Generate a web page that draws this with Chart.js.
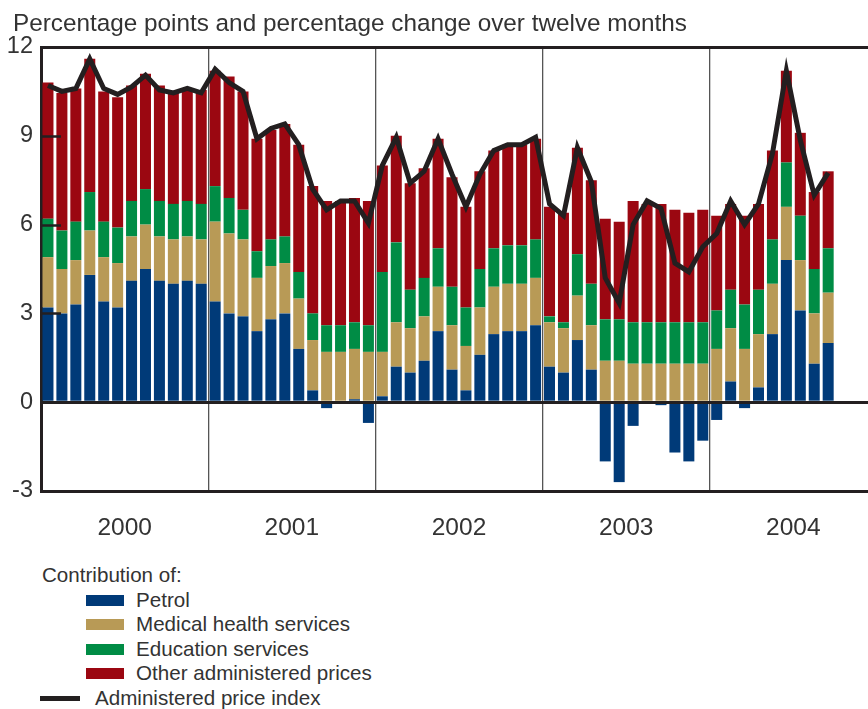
<!DOCTYPE html>
<html>
<head>
<meta charset="utf-8">
<script src="https://cdn.jsdelivr.net/npm/chart.js@4.4.1/dist/chart.umd.min.js"></script>
<style>
    html, body { margin: 0; padding: 0; background: #fff; overflow: hidden; }
    body { width: 868px; height: 709px; position: relative; font-family: "Liberation Sans", Arial, sans-serif; color: #333; }
    #title { position: absolute; left: 13px; top: 9px; font-size: 24.3px; line-height: 28px; white-space: nowrap; z-index: 2; }
    #chart { position: absolute; left: 0; top: 0; }
    #legend { position: absolute; left: 0; top: 563px; font-size: 20.6px; }
    .row { position: relative; height: 24.5px; line-height: 24.5px; white-space: nowrap; }
    .sw { position: absolute; left: 86px; top: 7px; width: 38px; height: 11px; }
    .ln { position: absolute; left: 40px; top: 10px; width: 40px; height: 5px; background: #231f20; }
</style>
</head>
<body>
<div id="title">Percentage points and percentage change over twelve months</div>
<canvas id="chart" width="893" height="560"></canvas>
<div id="legend"></div>
<script>
//---------
//Constants
//---------

//Years on the horizontal axis (Jan 2000 - Dec 2004, data up to Sep 2004)
const YEARS = ["2000", "2001", "2002", "2003", "2004"];

//Series names and colours
const SERIES_NAMES = ["Petrol", "Medical health services", "Education services", "Other administered prices"];
const SERIES_COLORS = ["#003a78", "#b89a56", "#008c45", "#9b0711"];
const INDEX_NAME = "Administered price index";
const INDEX_COLOR = "#231f20";

//Contribution of petrol, percentage points
const PETROL = [
    3.2, 3.0, 3.3, 4.3, 3.4, 3.2, 4.1, 4.5, 4.1, 4.0, 4.1, 4.0,
    3.4, 3.0, 2.9, 2.4, 2.8, 3.0, 1.8, 0.4, -0.2, 0.0, 0.1, -0.7,
    0.2, 1.2, 1.0, 1.4, 2.4, 1.1, 0.4, 1.6, 2.3, 2.4, 2.4, 2.6,
    1.2, 1.0, 2.1, 1.1, -2.0, -2.7, -0.8, 0.0, -0.1, -1.7, -2.0, -1.3,
    -0.6, 0.7, -0.2, 0.5, 2.3, 4.8, 3.1, 1.3, 2.0
];

//Contribution of medical health services
const MEDICAL = [
    1.7, 1.5, 1.5, 1.5, 1.5, 1.5, 1.5, 1.5, 1.5, 1.5, 1.5, 1.5,
    2.7, 2.7, 2.6, 1.8, 1.8, 1.7, 1.7, 1.7, 1.7, 1.7, 1.7, 1.7,
    1.5, 1.5, 1.5, 1.5, 1.5, 1.5, 1.5, 1.6, 1.6, 1.6, 1.6, 1.6,
    1.5, 1.5, 1.5, 1.5, 1.4, 1.4, 1.3, 1.3, 1.3, 1.3, 1.3, 1.3,
    1.8, 1.8, 1.8, 1.8, 1.7, 1.8, 1.7, 1.7, 1.7
];

//Contribution of education services
const EDUCATION = [
    1.3, 1.3, 1.3, 1.3, 1.2, 1.2, 1.2, 1.2, 1.2, 1.2, 1.2, 1.2,
    1.2, 1.2, 1.0, 0.9, 0.9, 0.9, 0.9, 0.9, 0.9, 0.9, 0.9, 0.9,
    2.7, 2.7, 1.3, 1.3, 1.3, 1.3, 1.3, 1.3, 1.3, 1.3, 1.3, 1.3,
    0.2, 0.2, 1.4, 1.4, 1.4, 1.4, 1.4, 1.4, 1.4, 1.4, 1.4, 1.4,
    1.3, 1.3, 1.5, 1.5, 1.5, 1.5, 1.5, 1.5, 1.5
];

//Contribution of other administered prices
const OTHER = [
    4.6, 4.65, 4.5, 4.5, 4.4, 4.4, 3.9, 3.9, 3.9, 3.75, 3.75, 3.85,
    3.9, 4.1, 4.0, 3.8, 3.7, 3.8, 4.3, 4.3, 4.2, 4.2, 4.2, 4.2,
    3.6, 3.6, 3.6, 3.7, 3.7, 3.7, 3.4, 3.3, 3.3, 3.4, 3.4, 3.4,
    3.7, 3.7, 3.6, 3.5, 3.4, 3.3, 4.1, 4.0, 4.0, 3.8, 3.7, 3.8,
    3.2, 2.9, 3.0, 2.9, 3.0, 3.1, 2.8, 2.6, 2.6
];

//Administered price index, percentage change over twelve months
const PRICE_INDEX = [
    10.7, 10.5, 10.6, 11.6, 10.6, 10.4, 10.65, 11.05, 10.55, 10.45, 10.6, 10.45,
    11.25, 10.8, 10.5, 8.9, 9.25, 9.4, 8.7, 7.2, 6.5, 6.8, 6.8, 6.05,
    8.0, 8.95, 7.4, 7.8, 8.9, 7.7, 6.6, 7.7, 8.5, 8.7, 8.7, 8.95,
    6.7, 6.3, 8.6, 7.45, 4.2, 3.35, 6.0, 6.8, 6.55, 4.7, 4.4, 5.25,
    5.7, 6.8, 6.0, 6.7, 8.4, 11.2, 8.85, 7.0, 7.75
];

//Vertical axis ticks
const Y_TICKS = [-3, 0, 3, 6, 9, 12];

//Month categories
const MONTHS = [];
YEARS.forEach(y => {
    for (let m = 1; m <= 12; m++) MONTHS.push(y + "-" + m);
});

//-----------
//Module body
//-----------

//Short inner tick marks and the zero line
const innerTicks = {
    id: "innerTicks",
    afterDatasetsDraw(chart) {
        const { ctx, chartArea, scales } = chart;
        ctx.save();
        ctx.strokeStyle = INDEX_COLOR;
        ctx.lineWidth = 2.5;
        Y_TICKS.filter(v => v > 0 && v < 12).forEach(v => {
            const y = Math.round(scales.y.getPixelForValue(v)) + 0.5;
            ctx.beginPath();
            ctx.moveTo(chartArea.left, y);
            ctx.lineTo(chartArea.left + 20, y);
            ctx.stroke();
        });
        ctx.lineWidth = 3;
        const y0 = Math.round(scales.y.getPixelForValue(0)) + 0.5;
        ctx.beginPath();
        ctx.moveTo(chartArea.left, y0);
        ctx.lineTo(chartArea.right, y0);
        ctx.stroke();
        ctx.restore();
    }
};

//Bar datasets
const barData = [PETROL, MEDICAL, EDUCATION, OTHER];
const datasets = barData.map((data, i) => ({
    type: "bar",
    label: SERIES_NAMES[i],
    data,
    backgroundColor: SERIES_COLORS[i],
    stack: "parts",
    order: 1,
    categoryPercentage: 1,
    barPercentage: 0.79
}));

//Index line
datasets.push({
    type: "line",
    label: INDEX_NAME,
    data: PRICE_INDEX,
    borderColor: INDEX_COLOR,
    borderWidth: 5,
    pointRadius: 0,
    tension: 0,
    fill: false,
    stack: "index",
    order: 0
});

const fontFamily = "'Liberation Sans', Arial, sans-serif";

new Chart(document.getElementById("chart").getContext("2d"), {
    type: "bar",
    data: { labels: MONTHS, datasets },
    options: {
        responsive: false,
        animation: false,
        devicePixelRatio: 1,
        layout: { padding: { top: 47, right: 4, bottom: 0, left: 0 } },
        plugins: { legend: { display: false }, tooltip: { enabled: false } },
        scales: {
            x: {
                stacked: true,
                afterFit: s => { s.height = 69; },
                grid: {
                    offset: true,
                    drawTicks: false,
                    color: c => (c.index % 12 === 0 && c.index > 0 ? "#555" : "rgba(0,0,0,0)"),
                    lineWidth: 1.3
                },
                border: { display: true, color: INDEX_COLOR, width: 3 },
                ticks: {
                    autoSkip: false,
                    maxRotation: 0,
                    minRotation: 0,
                    padding: 23,
                    labelOffset: 7,
                    color: "#333",
                    font: { family: fontFamily, size: 24.5 },
                    callback: (v, i) => (i % 12 === 5 ? YEARS[Math.floor(i / 12)] : "")
                }
            },
            y: {
                stacked: true,
                min: -3,
                max: 12,
                afterFit: s => { s.width = 41; },
                afterBuildTicks: s => { s.ticks = Y_TICKS.map(v => ({ value: v })); },
                grid: {
                    drawTicks: false,
                    color: c => (c.tick && (c.tick.value === 12 || c.tick.value === -3) ? INDEX_COLOR : "rgba(0,0,0,0)"),
                    lineWidth: 3
                },
                border: { display: true, color: INDEX_COLOR, width: 3 },
                ticks: { padding: 8, color: "#333", font: { family: fontFamily, size: 23.5 } }
            }
        }
    },
    plugins: [innerTicks]
});

//Legend
const legend = document.getElementById("legend");
let html = '<div class="row" style="padding-left:42px">Contribution of:</div>';
SERIES_NAMES.forEach((name, i) => {
    html += '<div class="row" style="padding-left:136px"><span class="sw" style="background:' + SERIES_COLORS[i] + '"></span>' + name + "</div>";
});
html += '<div class="row" style="padding-left:95px"><span class="ln"></span>' + INDEX_NAME + "</div>";
legend.innerHTML = html;
</script>
</body>
</html>
